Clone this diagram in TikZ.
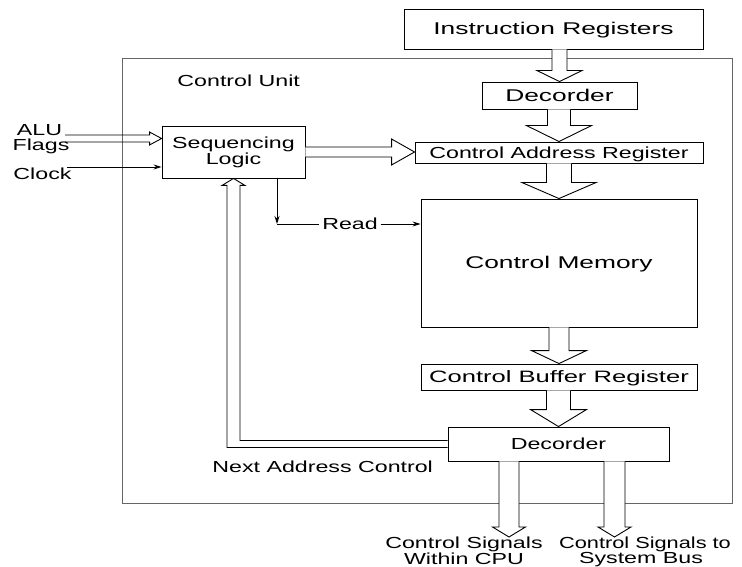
\documentclass[tikz,border=0pt]{standalone}
\usepackage{fontspec}
\usetikzlibrary{calc,arrows.meta}
\newfontfamily\lblfont[FakeStretch=1.45]{Liberation Sans}
\newfontfamily\lblwide[FakeStretch=1.55]{Liberation Sans}
\newfontfamily\lblnarrow[FakeStretch=1.36]{Liberation Sans}

% hollow block arrow pointing down: source point, target point, half shaft, half head, head length
\newcommand\blockdown[6][]{%
  \draw[blk,#1] let \p1=#2, \p2=#3 in
    (\x2-#4pt,\y1) -- (\x2-#4pt,\y2+#6pt) -- (\x2-#5pt,\y2+#6pt) -- (\x2,\y2)
    -- (\x2+#5pt,\y2+#6pt) -- (\x2+#4pt,\y2+#6pt) -- (\x2+#4pt,\y1);}
% hollow block arrow pointing right
\newcommand\blockright[6][]{%
  \draw[blk,#1] let \p1=#2, \p2=#3 in
    (\x1,\y1+#4pt) -- (\x2-#6pt,\y1+#4pt) -- (\x2-#6pt,\y1+#5pt) -- (\x2,\y1)
    -- (\x2-#6pt,\y1-#5pt) -- (\x2-#6pt,\y1-#4pt) -- (\x1,\y1-#4pt);}

\begin{document}
\begin{tikzpicture}[x=1pt,y=-1pt,
  line width=0.9pt,
  txt/.style={font=\lblfont\fontsize{16}{14}\selectfont},
  bigtxt/.style={font=\lblwide\fontsize{17}{15}\selectfont},
  box/.style={draw=black, inner sep=0pt, text height=11.5pt, text depth=0pt},
  blk/.style={draw=black, fill=white, line join=miter},
  cubox/.style={draw=black!60},
  tip/.style={-{Stealth[length=8pt,width=5pt]}}]
\useasboundingbox (0,0) rectangle (742,567);

% control unit frame
\draw[cubox] (122,58) rectangle (732,503);
\node[txt, anchor=base west, inner sep=0pt] (cul) at (177,87) {Control Unit};

% blocks
\node[box, bigtxt, minimum width=299pt, minimum height=40pt] (ir) at (553.5,29) {Instruction Registers};
\node[box, bigtxt, minimum width=155pt, minimum height=27pt] (dec1) at (559.5,95.5) {Decorder};
\node[box, txt, minimum width=288pt, minimum height=21pt] (car) at (559,152.5) {Control Address Register};
\node[draw=black, inner sep=0pt, txt, align=center, minimum width=143pt, minimum height=52pt] (sl) at (233.5,152) {Sequencing\\Logic};
\node[box, bigtxt, minimum width=276pt, minimum height=128pt] (cm) at (559,263) {Control Memory};
\node[box, txt, font=\lblwide\fontsize{16.5}{15}\selectfont, minimum width=276pt, minimum height=26pt] (cbr) at (559,377) {Control Buffer Register};
\node[box, txt, minimum width=221pt, minimum height=34pt] (dec2) at (558.5,444) {Decorder};

% block arrows down the microprogram path
\blockdown{(ir.south)}{(dec1.north)}{7.5}{22.5}{11}
\blockdown{(dec1.south)}{(car.north)}{11.5}{32.5}{16}
\blockdown{(car.south)}{(cm.north)}{12.5}{37}{16}
\blockdown{(cm.south)}{(cbr.north)}{10}{27.5}{13}
\blockdown{(cbr.south)}{(dec2.north)}{12}{28}{17}

% sequencing logic to control address register
\blockright{(sl.east)}{(car.west)}{5}{13}{23}

% ALU flags and clock inputs
\node[txt, anchor=base, inner sep=0pt] (alu) at (39.5,136) {ALU};
\node[txt, anchor=base, inner sep=0pt] (flg) at (41,151) {Flags};
\coordinate (aluin) at (65,138.5);
\blockright[fill=none]{(aluin)}{(sl.west)}{3.5}{6.5}{12}
\node[txt, anchor=base west, inner sep=0pt] (clkl) at (13,179) {Clock};
\coordinate (clk) at (67,167);
\draw[tip] (clk) -- (clk -| sl.west);

% read signal
\coordinate (rd) at (277,224);
\node[txt, inner sep=2.5pt] (read) at (350,224) {Read};
\draw[tip] (sl.south -| rd) -- (rd);
\draw (rd) -- (read.west);
\draw[tip] (read.east) -- (cm.west |- read);

% next address feedback
\draw[blk] let \p1=(dec2.west), \p2=(sl.south) in
  (\x1,\y1+3.5pt) -- (\x2+6.5pt,\y1+3.5pt) -- (\x2+6.5pt,\y2-7pt)
  -- (\x2+11.5pt,\y2-7pt) -- (\x2,\y2) -- (\x2-11.5pt,\y2-7pt)
  -- (\x2-6.5pt,\y2-7pt) -- (\x2-6.5pt,\y1-3.5pt) -- (\x1,\y1-3.5pt);
\node[txt, anchor=base west, inner sep=0pt] (nac) at (212,472) {Next Address Control};

% control signal outputs
\coordinate (o1) at (509,537);
\coordinate (o2) at (614.5,537);
\blockdown{(dec2.south -| o1)}{(o1)}{10}{16.5}{10}
\blockdown{(dec2.south -| o2)}{(o2)}{10.5}{16.5}{10}
\node[txt, anchor=base, inner sep=0pt] (l1a) at (464,548) {Control Signals};
\node[txt, anchor=base, inner sep=0pt] (l1b) at (464,564) {Within CPU};
\node[txt, font=\lblnarrow\fontsize{16}{14}\selectfont, anchor=base, inner sep=0pt] (l2a) at (645,548) {Control Signals to};
\node[txt, anchor=base, inner sep=0pt] (l2b) at (641,563.5) {System Bus};
\end{tikzpicture}
\end{document}
